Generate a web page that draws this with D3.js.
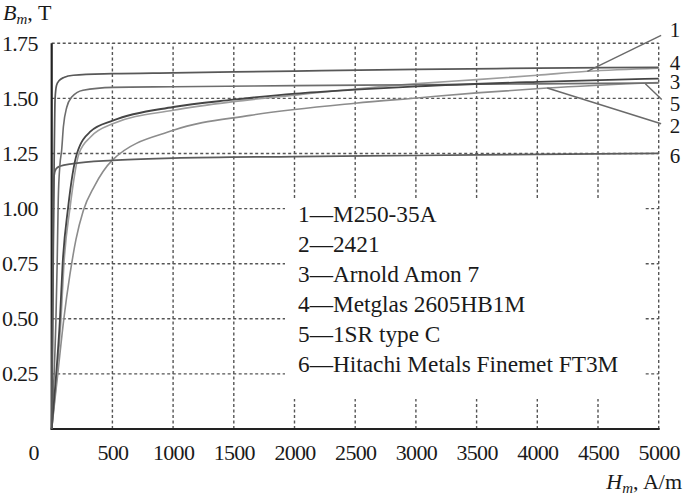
<!DOCTYPE html>
<html><head><meta charset="utf-8">
<script src="https://cdn.jsdelivr.net/npm/d3@7"></script>
<style>
html,body{margin:0;padding:0;background:#fff;}
svg{display:block;font-family:"Liberation Serif","Times New Roman",serif;}
</style></head>
<body><svg id="c" width="685" height="497"></svg>
<script>
// ---- data (H in A/m, B in T) ----
const seriesNames = ["M250-35A","2421","Arnold Amon 7","Metglas 2605HB1M","1SR type C","Hitachi Metals Finemet FT3M"];
const seriesIds = ["1","2","3","4","5","6"];

const H1 = [0, 35, 77, 101, 150, 225, 320, 508, 1002, 1494, 2006, 2500, 3010, 3500, 4000, 4412, 5000];
const B1 = [0, 0.2, 0.5, 0.75, 1.0, 1.25, 1.325, 1.386, 1.446, 1.485, 1.515, 1.543, 1.567, 1.585, 1.605, 1.623, 1.637];

const H2 = [0, 50, 100, 150, 200, 260, 350, 500, 1002, 1635, 2500, 3010, 3500, 4082, 5000];
const B2 = [0, 0.25, 0.5, 0.7, 0.86, 0.99, 1.1, 1.22, 1.355, 1.423, 1.478, 1.502, 1.525, 1.547, 1.572];

const H3 = [0, 30, 68, 90, 134, 208, 320, 508, 1002, 1494, 2006, 2500, 3010, 4000, 5000];
const B3 = [0, 0.2, 0.5, 0.75, 1.0, 1.25, 1.35, 1.40, 1.461, 1.494, 1.522, 1.54, 1.555, 1.575, 1.59];

const H4 = [0, 10, 20, 28, 40, 60, 100, 178, 500, 1000, 2000, 3000, 4000, 5000];
const B4 = [0, 0.6, 1.2, 1.5, 1.56, 1.58, 1.595, 1.605, 1.612, 1.616, 1.624, 1.632, 1.637, 1.641];

const H5 = [0, 20, 35, 45, 54, 68, 82, 96, 124, 165, 258, 505, 1000, 2000, 3000, 4000, 5000];
const B5 = [0, 0.25, 0.5, 0.75, 1.04, 1.2, 1.265, 1.37, 1.46, 1.506, 1.537, 1.55, 1.553, 1.558, 1.562, 1.566, 1.57];

const H6 = [0, 8, 14, 20, 35, 66, 178, 500, 1000, 2000, 3000, 4000, 5000];
const B6 = [0, 0.5, 1.0, 1.15, 1.18, 1.192, 1.204, 1.219, 1.229, 1.236, 1.241, 1.246, 1.251];

// leader lines: [H0,B0,H1,B1] for labels 1, 2, 5
const leader1 = [4412, 1.623, 5020, 1.786];
const leader2 = [4082, 1.547, 5020, 1.385];
const leader5 = [4890, 1.567, 5025, 1.495];

// curve-number labels at right (B value of label centre)
const endLabelIds = ["1","4","3","5","2","6"];
const endLabelB   = [1.811, 1.662, 1.578, 1.478, 1.378, 1.242];

const xTicks = [500,1000,1500,2000,2500,3000,3500,4000,4500,5000];
const yTicks = [0.25,0.5,0.75,1.0,1.25,1.5,1.75];

// ---- drawing ----
const svg = d3.select("#c");
const x = d3.scaleLinear().domain([0,5000]).range([51.7,658.7]);
const y = d3.scaleLinear().domain([0,1.75]).range([429,43.3]);

const gridColor = "#555";
// horizontal grid
svg.append("g").selectAll("line").data(yTicks).join("line")
  .attr("x1", x(0)).attr("x2", x(5000))
  .attr("y1", d=>y(d)).attr("y2", d=>y(d))
  .attr("stroke", gridColor).attr("stroke-width",1.4).attr("stroke-dasharray","3,2.5");
// vertical grid
svg.append("g").selectAll("line").data(xTicks).join("line")
  .attr("x1", d=>x(d)).attr("x2", d=>x(d))
  .attr("y1", y(0)).attr("y2", y(1.75))
  .attr("stroke", gridColor).attr("stroke-width",1.4).attr("stroke-dasharray","3,2.5");

// legend background (covers grid)
svg.append("rect").attr("x",285).attr("y",198).attr("width",360).attr("height",201).attr("fill","#fff");

// axes lines
svg.append("line").attr("x1",x(0)).attr("x2",x(0)).attr("y1",y(0)+1).attr("y2",y(1.75))
  .attr("stroke","#222").attr("stroke-width",2.2);
svg.append("line").attr("x1",x(0)-1).attr("x2",x(5000)+1).attr("y1",y(0)).attr("y2",y(0))
  .attr("stroke","#222").attr("stroke-width",2.2);

// tick labels
const yAxis = svg.append("g").attr("transform",`translate(${x(0)},0)`)
  .call(d3.axisLeft(y).tickValues(yTicks).tickFormat(d3.format(".2f")).tickSize(0).tickPadding(14));
const xAxis = svg.append("g").attr("transform",`translate(0,${y(0)})`)
  .call(d3.axisBottom(x).tickValues(xTicks).tickFormat(d3.format("d")).tickSize(0).tickPadding(15.5));
[yAxis,xAxis].forEach(g=>{
  g.select(".domain").remove();
  g.selectAll("text").attr("font-family","Liberation Serif").attr("font-size",22)
    .attr("letter-spacing","-0.7px").attr("fill","#1a1a1a");
});
svg.append("text").attr("x",34).attr("y",460).attr("text-anchor","middle")
  .attr("font-size",22).attr("fill","#1a1a1a").text("0");

// curves
const line = d3.line().x(d=>x(d[0])).y(d=>y(d[1])).curve(d3.curveMonotoneX);
const zipHB = (H,B)=>H.map((h,i)=>[h,B[i]]);
const curves = [
  {H:H2,B:B2,c:"#8c8c8c",w:1.6},
  {H:H1,B:B1,c:"#9d9d9d",w:1.6},
  {H:H6,B:B6,c:"#5c5c5c",w:1.7},
  {H:H5,B:B5,c:"#6d6d6d",w:1.6},
  {H:H3,B:B3,c:"#454545",w:1.8},
  {H:H4,B:B4,c:"#585858",w:1.7}
];
svg.append("g").selectAll("path").data(curves).join("path")
  .attr("d", d=>line(zipHB(d.H,d.B)))
  .attr("fill","none").attr("stroke",d=>d.c).attr("stroke-width",d=>d.w);

// leader lines
svg.append("g").selectAll("line").data([leader1,leader2,leader5]).join("line")
  .attr("x1",d=>x(d[0])).attr("y1",d=>y(d[1])).attr("x2",d=>x(d[2])).attr("y2",d=>y(d[3]))
  .attr("stroke","#6a6a6a").attr("stroke-width",1.4);

// end labels
svg.append("g").selectAll("text").data(endLabelIds).join("text")
  .attr("x", x(5000)+11).attr("y",(d,i)=>y(endLabelB[i])+7.5)
  .attr("font-size",21).attr("fill","#1a1a1a").text(d=>d);

// legend
svg.append("g").selectAll("text").data(seriesNames).join("text")
  .attr("x",298).attr("y",(d,i)=>222+i*30)
  .attr("font-size",23.3).attr("fill","#1a1a1a")
  .text((d,i)=>seriesIds[i]+"\u2014"+d);

// axis titles
const yt = svg.append("text").attr("x",3).attr("y",20).attr("font-size",22).attr("fill","#1a1a1a");
yt.append("tspan").attr("font-style","italic").text("B");
yt.append("tspan").attr("font-style","italic").attr("font-size",15).attr("dy",4).text("m");
yt.append("tspan").attr("dy",-4).text(", T");

const xt = svg.append("text").attr("x",682).attr("y",489).attr("text-anchor","end").attr("font-size",22).attr("fill","#1a1a1a");
xt.append("tspan").attr("font-style","italic").text("H");
xt.append("tspan").attr("font-style","italic").attr("font-size",15).attr("dy",4).text("m");
xt.append("tspan").attr("dy",-4).text(", A/m");
</script></body></html>
